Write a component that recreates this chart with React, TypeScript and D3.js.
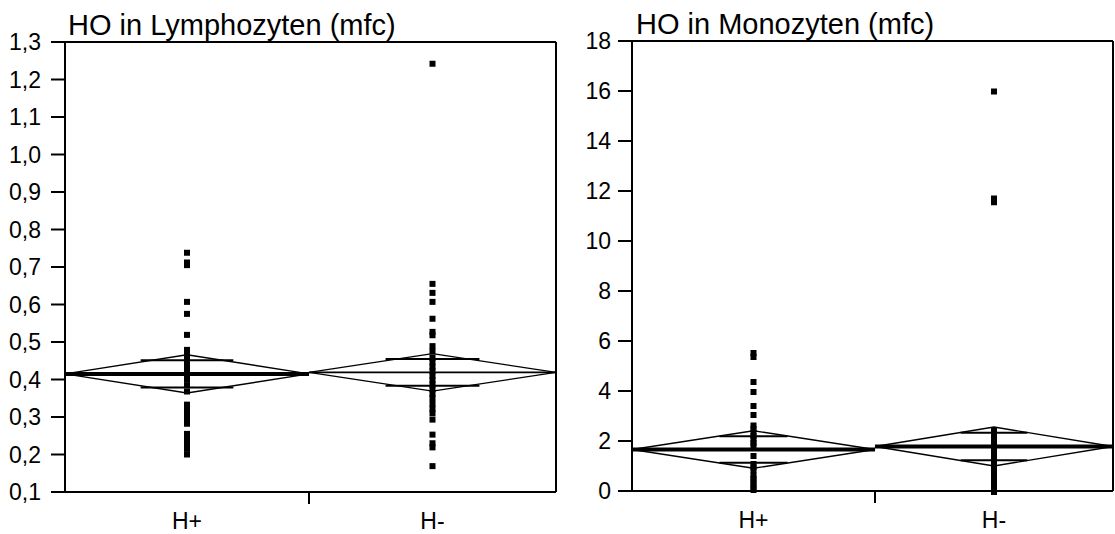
import React from "react";
import * as d3 from "d3";

// ---------- data ----------
const categories = ["H+", "H-"];

const lymphTitle = "HO in Lymphozyten (mfc)";
const lymphTicks = [0.1, 0.2, 0.3, 0.4, 0.5, 0.6, 0.7, 0.8, 0.9, 1.0, 1.1, 1.2, 1.3];
const lymphHplus = [
  0.738, 0.712, 0.705, 0.607, 0.575, 0.519, 0.479, 0.465, 0.455, 0.445, 0.432, 0.42, 0.41,
  0.4, 0.385, 0.368, 0.333, 0.32, 0.307, 0.293, 0.282, 0.255, 0.245, 0.235, 0.225, 0.215, 0.2,
];
const lymphHminus = [
  1.242, 0.655, 0.631, 0.607, 0.562, 0.527, 0.518, 0.489, 0.475, 0.458, 0.446, 0.434, 0.422,
  0.41, 0.398, 0.386, 0.374, 0.362, 0.35, 0.335, 0.322, 0.31, 0.293, 0.253, 0.23, 0.219, 0.169,
];
const lymphMeans = [0.415, 0.419];
const lymphCI = [0.051, 0.05];

const monoTitle = "HO in Monozyten (mfc)";
const monoTicks = [0, 2, 4, 6, 8, 10, 12, 14, 16, 18];
const monoHplus = [
  5.52, 5.36, 4.36, 3.96, 3.4, 3.04, 2.62, 2.48, 2.34, 2.2, 2.06, 1.92, 1.8, 1.4, 1.08, 0.95,
  0.82, 0.62, 0.5, 0.38, 0.26, 0.14, 0.04,
];
const monoHminus = [
  15.98, 11.7, 11.55, 2.42, 2.3, 2.17, 2.04, 1.92, 1.8, 1.68, 1.55, 1.42, 1.3, 1.18, 1.05, 0.93,
  0.8, 0.68, 0.55, 0.43, 0.3, 0.18, 0.06, -0.04,
];
const monoMeans = [1.66, 1.78];
const monoCI = [0.75, 0.78];

// ---------- component ----------
type PanelProps = {
  title: string;
  ticks: number[];
  fmt: (v: number) => string;
  groups: number[][];
  means: number[];
  ci: number[];
  x0: number;
  xMid: number;
  x1: number;
  yTop: number;
  yBottom: number;
  domain: [number, number];
  meanWidths: number[];
  overlapFrac: number;
  titleX: number;
  labelGap: number;
};

const FONT = "'Liberation Sans', Arial, Helvetica, sans-serif";

function Panel(p: PanelProps) {
  const x = d3.scaleLinear().domain([0, 1, 2]).range([p.x0, p.xMid, p.x1]);
  const y = d3.scaleLinear().domain(p.domain).range([p.yBottom, p.yTop]);
  const sq = 6;
  return (
    <g>
      <text x={p.titleX} y={p.yTop - 7} fontFamily={FONT} fontSize={29} fill="#000">
        {p.title}
      </text>
      {/* frame */}
      <line x1={p.x0} x2={p.x1} y1={p.yTop} y2={p.yTop} stroke="#000" strokeWidth={2} />
      <line x1={p.x1} x2={p.x1} y1={p.yTop} y2={p.yBottom} stroke="#000" strokeWidth={2} />
      <line x1={p.x0} x2={p.x0} y1={p.yTop} y2={p.yBottom} stroke="#000" strokeWidth={2} />
      <line x1={p.x0} x2={p.x1} y1={p.yBottom} y2={p.yBottom} stroke="#000" strokeWidth={2} />
      {/* y ticks */}
      {p.ticks.map((t) => (
        <g key={t}>
          <line x1={p.x0 - 14} x2={p.x0} y1={y(t)} y2={y(t)} stroke="#000" strokeWidth={2} />
          <text
            x={p.x0 - p.labelGap}
            y={y(t)}
            dy="0.36em"
            textAnchor="end"
            fontFamily={FONT}
            fontSize={23}
            fill="#000"
          >
            {p.fmt(t)}
          </text>
        </g>
      ))}
      {/* x boundary tick and labels */}
      <line x1={x(1)} x2={x(1)} y1={p.yBottom} y2={p.yBottom + 12} stroke="#000" strokeWidth={2} />
      {categories.map((c, i) => (
        <text
          key={c}
          x={x(i + 0.5)}
          y={p.yBottom + 37}
          textAnchor="middle"
          fontFamily={FONT}
          fontSize={23}
          fill="#000"
        >
          {c}
        </text>
      ))}
      {/* points */}
      {p.groups.map((g, i) =>
        g.map((v, j) => (
          <rect
            key={i + "-" + j}
            x={x(i + 0.5) - sq / 2}
            y={y(v) - sq / 2}
            width={sq}
            height={sq}
            fill="#000"
          />
        ))
      )}
      {/* means diamonds */}
      {p.means.map((m, i) => {
        const l = x(i);
        const r = x(i + 1);
        const c = x(i + 0.5);
        const hw = (r - l) / 2;
        const ov = p.ci[i] / Math.SQRT2;
        const ow = hw * p.overlapFrac;
        const pts = [
          [l, y(m)],
          [c, y(m + p.ci[i])],
          [r, y(m)],
          [c, y(m - p.ci[i])],
        ]
          .map((q) => q.join(","))
          .join(" ");
        return (
          <g key={"d" + i}>
            <polygon points={pts} fill="none" stroke="#000" strokeWidth={1.4} />
            <line x1={l} x2={r} y1={y(m)} y2={y(m)} stroke="#000" strokeWidth={p.meanWidths[i]} />
            <line x1={c - ow} x2={c + ow} y1={y(m + ov)} y2={y(m + ov)} stroke="#000" strokeWidth={2} />
            <line x1={c - ow} x2={c + ow} y1={y(m - ov)} y2={y(m - ov)} stroke="#000" strokeWidth={2} />
          </g>
        );
      })}
    </g>
  );
}

export default function App() {
  const commaFmt = (v: number) => d3.format(".1f")(v).replace(".", ",");
  const intFmt = (v: number) => d3.format("d")(v);
  return (
    <svg
      width={1115}
      height={534}
      style={{ position: "absolute", left: 0, top: 0, background: "#fff" }}
    >
      <rect width={1115} height={534} fill="#fff" />
      <Panel
        title={lymphTitle}
        ticks={lymphTicks}
        fmt={commaFmt}
        groups={[lymphHplus, lymphHminus]}
        means={lymphMeans}
        ci={lymphCI}
        x0={65}
        xMid={309}
        x1={556}
        yTop={42}
        yBottom={492}
        domain={[0.1, 1.3]}
        meanWidths={[4, 1.6]}
        overlapFrac={0.38}
        titleX={68}
        labelGap={24}
      />
      <Panel
        title={monoTitle}
        ticks={monoTicks}
        fmt={intFmt}
        groups={[monoHplus, monoHminus]}
        means={monoMeans}
        ci={monoCI}
        x0={632}
        xMid={875}
        x1={1113}
        yTop={41}
        yBottom={491}
        domain={[0, 18]}
        meanWidths={[4, 4]}
        overlapFrac={0.28}
        titleX={636}
        labelGap={21}
      />
    </svg>
  );
}
